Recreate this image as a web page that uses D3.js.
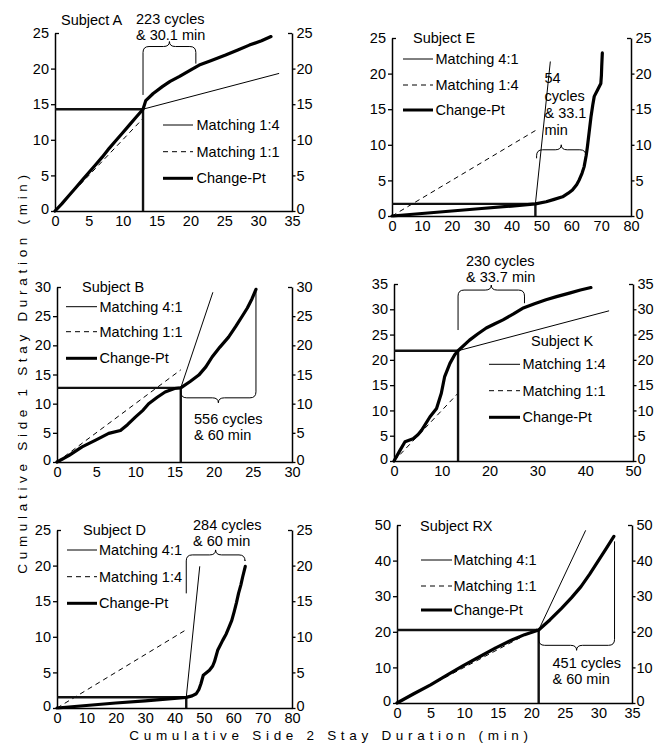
<!DOCTYPE html>
<html>
<head>
<meta charset="utf-8">
<script src="https://cdn.jsdelivr.net/npm/d3@7"></script>
<style>
  body { margin: 0; background: #fff; }
  svg { display: block; }
  text { font-family: "Liberation Sans", Arial, Helvetica, sans-serif; fill: #000; }
</style>
</head>
<body>
<svg id="chart" width="655" height="744"></svg>
<script>
// ---- data ----------------------------------------------------------------
const subjects   = ["Subject A", "Subject E", "Subject B", "Subject K", "Subject D", "Subject RX"];
const xMax       = [35, 80, 30, 50, 80, 35];
const yMax       = [25, 25, 30, 35, 25, 50];
const xStep      = [5, 10, 5, 10, 10, 5];
const yStep      = [5, 5, 5, 5, 5, 10];

// change point (side 2, side 1) in minutes
const changeX    = [13, 48, 15.8, 13.4, 44, 21.1];
const changeY    = [14.3, 1.7, 12.7, 21.8, 1.5, 20.5];

// matching lines: before the change point (dashed, from origin) and after it (thin)
const preRatio   = [1, 0.25, 1, 1, 0.25, 1];
const postRatio  = [0.25, 4, 4, 0.25, 4, 4];
const postEndX   = [33.1, 53, 19.9, 45, 48.6, 28.1];

const legendPost = ["Matching 1:4", "Matching 4:1", "Matching 4:1", "Matching 1:4", "Matching 4:1", "Matching 4:1"];
const legendPre  = ["Matching 1:1", "Matching 1:4", "Matching 1:1", "Matching 1:1", "Matching 1:4", "Matching 1:1"];
const legendChange = "Change-Pt";

const cycleNotes = [
  ["223 cycles", "& 30.1 min"],
  ["54", "cycles", "& 33.1", "min"],
  ["556 cycles", "& 60 min"],
  ["230 cycles", "& 33.7 min"],
  ["284 cycles", "& 60 min"],
  ["451 cycles", "& 60 min"]
];

// brace spans (side 2 minutes) and heights (side 1 minutes)
const braceFrom  = [13, 48.4, 15.8, 13.4, 44, 21.1];
const braceTo    = [20.8, 64.9, 25.4, 27.3, 64, 32.4];
const braceLevel = [23.1, 9.3, 11.0, 33.8, 21.5, 16.2];
const braceArmL  = [16.3, 8.1, 12.3, 25.9, 16.1, 20.5];
const braceArmR  = [20.7, 7.8, 29.2, 31.2, 20.8, 45.4];
const braceTipUp = [true, true, false, true, true, false];

// cumulative stay durations [side 2, side 1]
const curveA = [[0,0],[1,1.0],[2,2.1],[3,3.2],[4,4.3],[5,5.4],[6,6.5],[7,7.6],[8,8.8],[9,9.9],[10,11],[11,12.1],[12,13.2],[13,14.3],
  [13.4,15.5],[14.5,16.5],[15.9,17.5],[17,18.2],[18.4,18.9],[20,19.8],[21.3,20.5],[23,21.1],[25.2,21.9],[27,22.6],[28.7,23.3],[30.5,23.9],[31.9,24.5]];
const curveE = [[0,0],[10,0.35],[20,0.7],[30,1.05],[40,1.4],[48,1.7],[51.6,2.0],[54,2.3],[57.1,2.7],[59,3.2],[60.4,3.65],[61.8,4.4],
  [62.7,5.1],[63.6,6.0],[64.3,6.9],[65,8.5],[65.4,9.7],[66,11.8],[66.6,13.9],[67.2,15.6],[67.7,16.8],[68.8,17.7],[69.9,18.6],[70.1,19.8],[70.2,21],[70.4,22.9]];
const curveB = [[0,0],[1.5,1.1],[3.2,2.6],[5,3.8],[6.6,4.9],[8.1,5.4],[9,6.4],[10,7.7],[11,8.9],[11.7,10],[12.8,11.1],[13.8,12],[15,12.6],[15.8,12.7],
  [17,13.8],[18.1,14.9],[19,16.3],[19.8,18],[20.8,19.7],[21.9,21.4],[22.8,23.2],[23.6,24.9],[24.3,26.4],[24.9,28],[25.4,29.6]];
const curveK = [[0,0],[1.25,2.1],[2.3,3.8],[4,4.4],[5,5.2],[5.8,6.1],[7.5,8.7],[8.9,10.4],[9.9,13.4],[10.6,16.7],[11.7,19.3],[12.7,21],[13.4,21.8],
  [15.8,23.9],[17.5,25.1],[19.3,26.3],[21,27.1],[22.8,27.9],[25,29.1],[26.9,30.2],[29.4,31.1],[31.8,31.9],[34,32.5],[36.7,33.2],[39,33.8],[41.2,34.3]];
const curveD = [[0,0],[10,0.35],[20,0.7],[30,1.0],[40,1.35],[44,1.5],[46,1.7],[47.4,2.0],[48.3,2.6],[49,3.4],[49.8,4.6],[51.9,5.3],[53,5.9],
  [53.6,6.5],[54.7,8.1],[56.4,9.5],[57.6,10.4],[58.6,11.4],[59.5,12.3],[60.3,13.5],[61.1,14.8],[61.8,16.1],[62.6,17.3],[63.2,18.4],[64.1,19.9]];
const curveRX = [[0,0],[2.5,2.6],[5,5.1],[7.5,7.9],[9.8,10.4],[12.5,13.2],[14.7,15.5],[17.1,17.7],[19,19.2],[21.1,20.5],
  [22.8,23.4],[24.5,26.6],[26,29.6],[27.4,32.7],[28.7,36.2],[29.9,39.7],[31.1,43.2],[32.3,46.8]];
const curves = [curveA, curveE, curveB, curveK, curveD, curveRX];

// ---- layout (pixels) -----------------------------------------------------
const frames = [
  {l: 55,  r: 292, t: 33,  b: 211},
  {l: 392, r: 631, t: 38,  b: 216},
  {l: 57,  r: 292, t: 287, b: 462},
  {l: 394, r: 633, t: 284, b: 461},
  {l: 57,  r: 292, t: 530, b: 708},
  {l: 397, r: 632, t: 525, b: 703}
];
const titlePos  = [[61, 24.5], [413, 43], [82, 292], [531, 346], [83, 534.5], [420, 531]];
const legendPos = [
  {x0: 163, x1: 193, tx: 196.5, rows: [125, 151.7, 178.3]},
  {x0: 403, x1: 433, tx: 435.5, rows: [59, 85, 110]},
  {x0: 66,  x1: 97,  tx: 99.5, rows: [306.7, 331.7, 358.3]},
  {x0: 489, x1: 520, tx: 522.5, rows: [364.3, 390.7, 417.3]},
  {x0: 67,  x1: 97,  tx: 99, rows: [550, 576.7, 603.3]},
  {x0: 421, x1: 452, tx: 453.5, rows: [560, 586, 610]}
];
const notePos = [
  {x: 136, ys: [24, 39.5]},
  {x: 544.5, ys: [83.3, 100.5, 118.3, 135]},
  {x: 194, ys: [424, 440]},
  {x: 466, ys: [266, 282]},
  {x: 193, ys: [530, 546]},
  {x: 552.5, ys: [668.3, 684]}
];

const FS = 14.5;
const svg = d3.select("#chart");

function bracePath(x1, x2, yb, yL, yR, tipUp) {
  const r = 6, tip = 5;
  const s = tipUp ? -1 : 1;           // direction of the tip in pixel space
  const xm = (x1 + x2) / 2;
  const p = d3.path();
  p.moveTo(x1, yL);
  p.lineTo(x1, yb - s * r);
  p.quadraticCurveTo(x1, yb, x1 + r, yb);
  p.lineTo(xm - r, yb);
  p.quadraticCurveTo(xm, yb, xm, yb + s * tip);
  p.quadraticCurveTo(xm, yb, xm + r, yb);
  p.lineTo(x2 - r, yb);
  p.quadraticCurveTo(x2, yb, x2, yb - s * r);
  p.lineTo(x2, yR);
  return p.toString();
}

subjects.forEach((name, i) => {
  const f = frames[i];
  const x = d3.scaleLinear().domain([0, xMax[i]]).range([f.l, f.r]);
  const y = d3.scaleLinear().domain([0, yMax[i]]).range([f.b, f.t]);
  const g = svg.append("g");

  const xt = d3.range(0, xMax[i] + 0.001, xStep[i]);
  const yt = d3.range(0, yMax[i] + 0.001, yStep[i]);

  // axes
  const ax = g.append("g").attr("transform", `translate(0,${f.b})`)
    .call(d3.axisBottom(x).tickValues(xt).tickSize(0).tickPadding(5).tickSizeOuter(0));
  const al = g.append("g").attr("transform", `translate(${f.l},0)`)
    .call(d3.axisLeft(y).tickValues(yt).tickSize(4).tickPadding(2).tickSizeOuter(0));
  const ar = g.append("g").attr("transform", `translate(${f.r},0)`)
    .call(d3.axisRight(y).tickValues(yt).tickSize(3.5).tickPadding(1).tickSizeOuter(0));
  [ax, al, ar].forEach(a => {
    a.attr("font-family", null).attr("font-size", null);
    a.selectAll("text").style("font-size", FS + "px");
    a.select(".domain").attr("stroke", "#000").attr("stroke-width", 1.5);
    a.selectAll(".tick line").attr("stroke", "#000").attr("stroke-width", 1.3);
  });
  // top ticks turn inward to close the frame corners
  al.selectAll(".tick").filter(d => d === yMax[i]).select("line").attr("x2", 4);
  ar.selectAll(".tick").filter(d => d === yMax[i]).select("line").attr("x2", -4);
  // lift the zero labels a touch so they sit clear of the x labels
  al.selectAll(".tick").filter(d => d === 0).select("text").attr("dy", "0.2em");
  ar.selectAll(".tick").filter(d => d === 0).select("text").attr("dy", "0.2em");

  const cx = changeX[i], cy = changeY[i];

  // matching lines
  g.append("line")
    .attr("x1", x(0)).attr("y1", y(0))
    .attr("x2", x(cx)).attr("y2", y(cx * preRatio[i]))
    .attr("stroke", "#000").attr("stroke-width", 1).attr("stroke-dasharray", "5,4");
  g.append("line")
    .attr("x1", x(cx)).attr("y1", y(cy))
    .attr("x2", x(postEndX[i])).attr("y2", y(cy + (postEndX[i] - cx) * postRatio[i]))
    .attr("stroke", "#000").attr("stroke-width", 1);

  // change point guides
  g.append("path")
    .attr("d", `M${x(0)},${y(cy)}H${x(cx)}V${y(0)}`)
    .attr("fill", "none").attr("stroke", "#111").attr("stroke-width", 2.4);

  // cumulative record
  g.append("path")
    .datum(curves[i])
    .attr("d", d3.line().x(d => x(d[0])).y(d => y(d[1])))
    .attr("fill", "none").attr("stroke", "#000").attr("stroke-width", 3.2)
    .attr("stroke-linejoin", "round").attr("stroke-linecap", "round");

  // brace over the post-change segment
  g.append("path")
    .attr("d", bracePath(x(braceFrom[i]), x(braceTo[i]), y(braceLevel[i]),
                         y(braceArmL[i]), y(braceArmR[i]), braceTipUp[i]))
    .attr("fill", "none").attr("stroke", "#000").attr("stroke-width", 1);

  const nt = notePos[i];
  cycleNotes[i].forEach((s, k) => {
    g.append("text").attr("x", nt.x).attr("y", nt.ys[k])
      .style("font-size", FS + "px").text(s);
  });

  // subject title and legend
  g.append("text").attr("x", titlePos[i][0]).attr("y", titlePos[i][1])
    .style("font-size", FS + "px").text(name);

  const lp = legendPos[i];
  const items = [
    {label: legendPost[i], w: 1, dash: null},
    {label: legendPre[i], w: 1, dash: "5,4"},
    {label: legendChange, w: 3, dash: null}
  ];
  items.forEach((it, k) => {
    g.append("line")
      .attr("x1", lp.x0).attr("x2", lp.x1).attr("y1", lp.rows[k]).attr("y2", lp.rows[k])
      .attr("stroke", "#000").attr("stroke-width", it.w)
      .attr("stroke-dasharray", it.dash);
    g.append("text").attr("x", lp.tx).attr("y", lp.rows[k]).attr("dy", "0.35em")
      .style("font-size", FS + "px").text(it.label);
  });
});

// shared axis titles
svg.append("text")
  .attr("transform", "translate(27,372) rotate(-90)")
  .attr("text-anchor", "middle")
  .style("font-size", "13.5px").style("letter-spacing", "4.7px")
  .text("Cumulative Side 1 Stay Duration (min)");
svg.append("text")
  .attr("x", 331).attr("y", 740)
  .attr("text-anchor", "middle")
  .style("font-size", "13.5px").style("letter-spacing", "4.7px")
  .text("Cumulative Side 2 Stay Duration (min)");
</script>
</body>
</html>
